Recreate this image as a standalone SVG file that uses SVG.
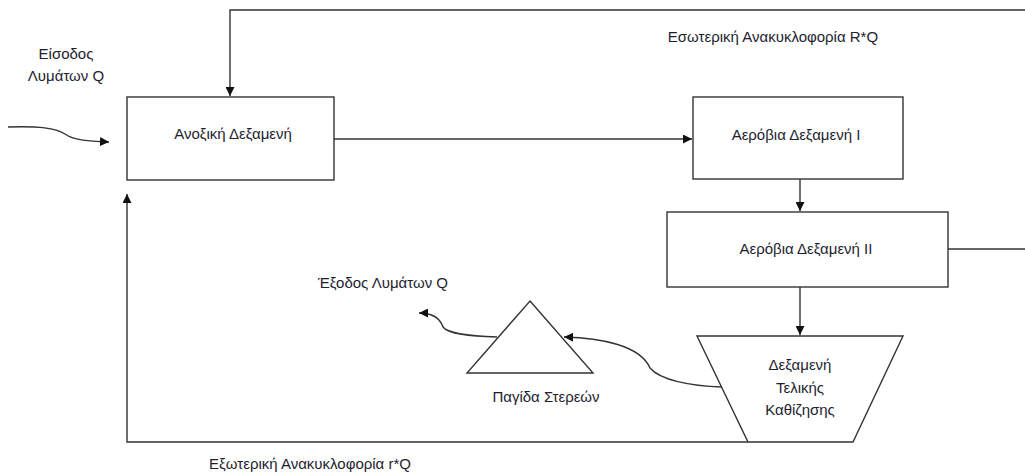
<svg xmlns="http://www.w3.org/2000/svg" width="1025" height="476" viewBox="0 0 1025 476">
<defs>
<style>
.box{fill:#fff;stroke:#333;stroke-width:1.4}
.ln{fill:none;stroke:#333;stroke-width:1.4}
.t{font-family:"Liberation Sans",Arial,sans-serif;font-size:15px;fill:#1e1e30;text-anchor:middle}
</style>
<marker id="ah" viewBox="0 0 10 10" refX="10" refY="5" markerWidth="9" markerHeight="9" markerUnits="userSpaceOnUse" orient="auto">
<path d="M0,0 L10,5 L0,10 z" fill="#111"/>
</marker>
</defs>
<rect width="1025" height="476" fill="#fff"/>
<g id="connectors">
<path class="ln" d="M1025,10 L230,10 L230,96" marker-end="url(#ah)"/>
<path class="ln" d="M8,127 C40,126 55,128 65,134 C75,141 90,141 109,142" marker-end="url(#ah)"/>
<path class="ln" d="M334,139 L692,139" marker-end="url(#ah)"/>
<path class="ln" d="M800,179 L800,211" marker-end="url(#ah)"/>
<path class="ln" d="M948,249 L1025,249"/>
<path class="ln" d="M800,287 L800,335" marker-end="url(#ah)"/>
<path class="ln" d="M722,387 C690,386 660,380 650,368 C640,345 600,338 564,337" marker-end="url(#ah)"/>
<path class="ln" d="M497,337 C470,336 448,334 443,327 C440,318 432,313 419,313" marker-end="url(#ah)"/>
<path class="ln" d="M748,442 L127,442 L127,194" marker-end="url(#ah)"/>
</g>
<g id="anoxic">
<rect class="box" x="127" y="97" width="207" height="83"/>
<text class="t" x="233" y="139">Ανοξική Δεξαμενή</text>
</g>
<g id="aerobic1">
<rect class="box" x="693" y="97" width="210" height="82"/>
<text class="t" x="796" y="140">Αερόβια Δεξαμενή Ι</text>
</g>
<g id="aerobic2">
<rect class="box" x="667" y="212" width="281" height="75"/>
<text class="t" x="806" y="254">Αερόβια Δεξαμενή ΙΙ</text>
</g>
<g id="clarifier">
<path class="box" d="M697,336 L903,336 L853,442 L748,442 Z"/>
<text class="t" x="800" y="370">Δεξαμενή</text>
<text class="t" x="800" y="393">Τελικής</text>
<text class="t" x="800" y="415">Καθίζησης</text>
</g>
<g id="trap">
<path class="box" d="M530,301 L593,373 L467,373 Z"/>
<text class="t" x="546" y="402">Παγίδα Στερεών</text>
</g>
<g id="labels">
<text class="t" x="66" y="59">Είσοδος</text>
<text class="t" x="66" y="81">Λυμάτων Q</text>
<text class="t" x="773" y="42">Εσωτερική Ανακυκλοφορία R*Q</text>
<text class="t" x="383" y="288">Έξοδος Λυμάτων Q</text>
<text class="t" x="310" y="469">Εξωτερική Ανακυκλοφορία r*Q</text>
</g>
</svg>
